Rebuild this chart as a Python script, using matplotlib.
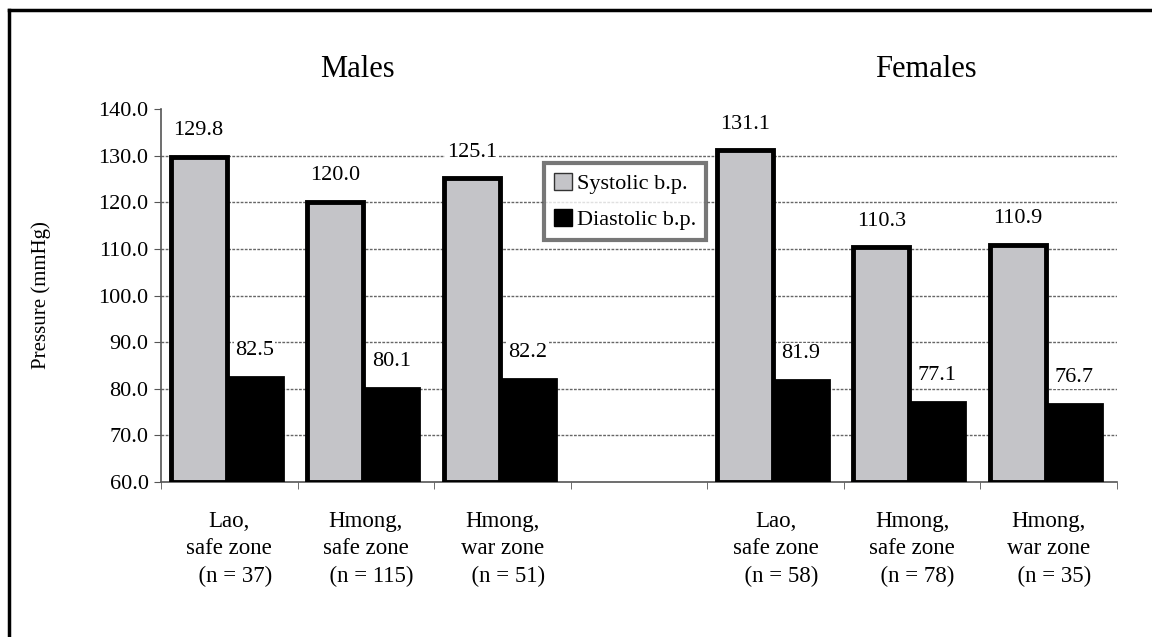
import matplotlib
matplotlib.use('Agg')
import matplotlib.pyplot as plt
from matplotlib.lines import Line2D
from matplotlib.patches import Patch
from matplotlib.transforms import blended_transform_factory

plt.rcParams['font.family'] = ['Liberation Serif', 'DejaVu Serif']

# data
groups = ['Lao,\nsafe zone\n  (n = 37)', 'Hmong,\nsafe zone\n  (n = 115)', 'Hmong,\nwar zone\n  (n = 51)',
          '',
          'Lao,\nsafe zone\n  (n = 58)', 'Hmong,\nsafe zone\n  (n = 78)', 'Hmong,\nwar zone\n  (n = 35)']
systolic = [129.8, 120.0, 125.1, None, 131.1, 110.3, 110.9]
diastolic = [82.5, 80.1, 82.2, None, 81.9, 77.1, 76.7]
sexes = ['Males', 'Females']
sex_centers = [0.935, 5.10]

fig = plt.figure(figsize=(11.52, 6.37), dpi=100)
ax = fig.add_axes([0.1398, 0.2433, 0.8298, 0.5856])

# outer frame (top and left only)
fig.add_artist(Line2D([0.0075, 1.0], [0.984, 0.984], transform=fig.transFigure, color='black', lw=2.5))
fig.add_artist(Line2D([0.0078, 0.0078], [0.0, 0.984], transform=fig.transFigure, color='black', lw=2.5))

w = 0.41
grey = '#c4c4c8'
for i in range(len(groups)):
    if systolic[i] is None:
        continue
    s, d = systolic[i], diastolic[i]
    ax.bar(i + 0.185, d - 60, bottom=60, width=w, color='black', edgecolor='black', lw=2, zorder=3)
    ax.bar(i - 0.225, s - 60, bottom=60, width=w, color=grey, edgecolor='black', lw=3.5, zorder=4)
    for x, v in [(i - 0.225, s), (i + 0.185, d)]:
        ax.annotate(f'{v:.1f}', (x, v), xytext=(0, 19), textcoords='offset points',
                    ha='center', va='center', fontsize=16, zorder=5,
                    bbox=dict(facecolor='white', edgecolor='none', pad=1))

ax.set_xlim(-0.5, len(groups) - 0.5)
ax.set_ylim(60, 140)
ax.set_yticks(range(60, 141, 10))
ax.set_yticklabels([f'{t:.1f}' for t in range(60, 141, 10)], fontsize=16)
for t in range(70, 131, 10):
    ax.axhline(t, color='#666666', lw=1, ls=(0, (2, 1)), zorder=1)

ax.set_xticks([i for i in range(len(groups)) if groups[i]])
ax.set_xticklabels([g for g in groups if g], fontsize=16.5, linespacing=1.38)
ax.tick_params(axis='x', which='major', length=0, pad=21)
ax.set_xticks([i - 0.5 for i in range(len(groups) + 1)], minor=True)
ax.tick_params(axis='x', which='minor', length=5, color='#555555', direction='out')
ax.tick_params(axis='y', length=5, color='#555555', pad=4)

for side in ['top', 'right']:
    ax.spines[side].set_visible(False)
for side in ['left', 'bottom']:
    ax.spines[side].set_color('#555555')
    ax.spines[side].set_linestyle((0, (2, 1)))
    ax.spines[side].set_linewidth(1.2)

ax.set_ylabel('Pressure (mmHg)', fontsize=15, labelpad=34)

tr = blended_transform_factory(ax.transData, ax.transAxes)
for name, cx in zip(sexes, sex_centers):
    ax.text(cx, 1.105, name, transform=tr, ha='center', va='center', fontsize=22)

handles = [Patch(facecolor=grey, edgecolor='#333333', label='Systolic b.p.'),
           Patch(facecolor='black', edgecolor='black', label='Diastolic b.p.')]
leg = ax.legend(handles=handles, loc='upper left', bbox_to_anchor=(0.401, 0.855), fontsize=16,
                frameon=True, fancybox=False, handlelength=0.8, handleheight=0.8,
                handletextpad=0.2, borderpad=0.45, labelspacing=0.65, borderaxespad=0)
leg.get_frame().set_edgecolor('#555555')
leg.get_frame().set_linewidth(3)
leg.set_zorder(6)

fig.savefig('out.png', dpi=100)
